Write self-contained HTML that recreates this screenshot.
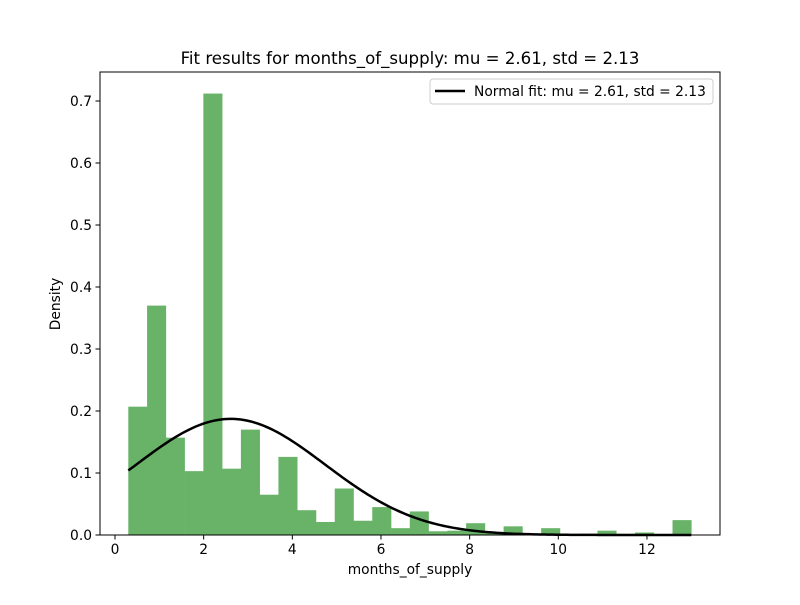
<!DOCTYPE html>
<html><head><meta charset="utf-8"><style>
body{margin:0;background:#fff;font-family:"Liberation Sans","DejaVu Sans",sans-serif}
</style></head><body>
<svg id="chart" width="800" height="600" xmlns="http://www.w3.org/2000/svg" font-family="DejaVu Sans, Liberation Sans, sans-serif">
<rect width="800" height="600" fill="#fff"/>
<g id="bars"></g>
<path id="fit" fill="none" stroke="#000" stroke-width="2.5"/>
<rect x="100" y="72" width="620" height="463" fill="none" stroke="#000" stroke-width="1"/>
<g id="xt"></g>
<g id="yt"></g>
<text x="410" y="574" text-anchor="middle" font-size="13.8">months_of_supply</text>
<text transform="translate(60,304) rotate(-90)" text-anchor="middle" font-size="13.8">Density</text>
<text x="410" y="64" text-anchor="middle" font-size="16.6">Fit results for months_of_supply: mu = 2.61, std = 2.13</text>
<g>
<rect x="430" y="79" width="283" height="25" rx="3" fill="#fff" stroke="#ccc"/>
<line x1="435" y1="91" x2="465" y2="91" stroke="#000" stroke-width="2.5"/>
<text x="474" y="96" font-size="13.8">Normal fit: mu = 2.61, std = 2.13</text>
</g>
</svg>
<script>
const heights=[0.207,0.37,0.157,0.103,0.712,0.107,0.17,0.065,0.126,0.04,0.021,0.075,0.023,0.045,0.011,0.038,0.006,0.007,0.019,0.003,0.014,0.002,0.011,0.001,0.002,0.007,0.002,0.004,0,0.024];
const binStart=0.3, binEnd=13.0;
const mu=2.61, sd=2.13;
const xTicks=[0,2,4,6,8,10,12];
const yTicks=[0,0.1,0.2,0.3,0.4,0.5,0.6,0.7];
const X=v=>115+v*44.33, Y=v=>535-v*620;
const ns="http://www.w3.org/2000/svg";
const bg=document.getElementById('bars');
const w=(binEnd-binStart)/heights.length;
heights.forEach((h,i)=>{const r=document.createElementNS(ns,'rect');


const x0=X(binStart+i*w),x1=X(binStart+(i+1)*w);
r.setAttribute('x',x0);r.setAttribute('width',x1-x0+0.3);r.setAttribute('y',Y(h));r.setAttribute('height',Y(0)-Y(h));r.setAttribute('fill','#68b368');bg.appendChild(r);});
let d='';for(let i=0;i<=200;i++){const v=binStart+(binEnd-binStart)*i/200;const p=Math.exp(-0.5*((v-mu)/sd)**2)/(sd*Math.sqrt(2*Math.PI));d+=(i?'L':'M')+X(v).toFixed(2)+','+Y(p).toFixed(2);}
document.getElementById('fit').setAttribute('d',d);
const xt=document.getElementById('xt');
xTicks.forEach(t=>{const g=document.createElementNS(ns,'g');


g.innerHTML=`<line x1="${X(t)}" x2="${X(t)}" y1="535" y2="539.5" stroke="#000"/><text x="${X(t)}" y="554" text-anchor="middle" font-size="13.8">${t}</text>`;xt.appendChild(g);});
const yt=document.getElementById('yt');
yTicks.forEach(t=>{const g=document.createElementNS(ns,'g');


g.innerHTML=`<line x1="95.5" x2="100" y1="${Y(t)}" y2="${Y(t)}" stroke="#000"/><text x="92" y="${Y(t)+5}" text-anchor="end" font-size="13.8">${t.toFixed(1)}</text>`;yt.appendChild(g);});
</script>
</body></html>
